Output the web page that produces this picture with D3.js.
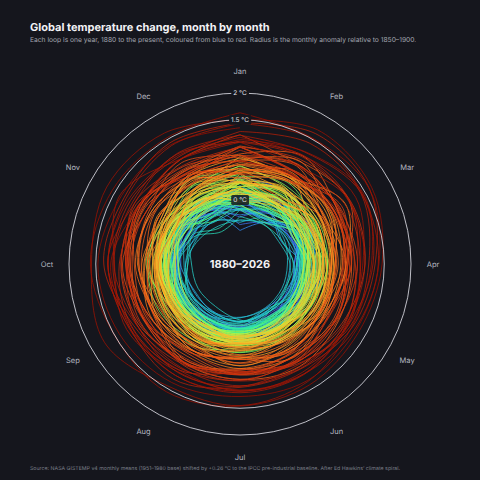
<!DOCTYPE html>
<html>
<head>
<meta charset="utf-8">
<script src="https://cdn.jsdelivr.net/npm/d3@7"></script>
<style>
  html, body { margin: 0; padding: 0; background: #15161d; }
  svg { display: block; font-family: Inter, "Noto Sans", sans-serif; }
</style>
</head>
<body>
<script>
'use strict';

const months = ["Jan", "Feb", "Mar", "Apr", "May", "Jun", "Jul", "Aug", "Sep", "Oct", "Nov", "Dec"];
const firstYear = 1880;
const lastYear = 2026;
const baselineShift = 0.26; // GISTEMP 1951-1980 base -> 1850-1900
const refLevels = [0, 1.5, 2];
const refLabels = ["0 °C", "1.5 °C", "2 °C"];

// monthly anomalies, hundredths of a degree, one row per year from 1880
const gistemp = [
  "-19 -25 -9 -17 -10 -21 -18 -10 -15 -24 -22 -18",
  "-20 -14 3 5 6 -19 0 -3 -15 -22 -18 -7",
  "16 14 4 -16 -14 -23 -16 -8 -15 -23 -17 -36",
  "-29 -37 -12 -19 -18 -8 -8 -14 -22 -11 -24 -11",
  "-13 -8 -36 -40 -33 -35 -31 -27 -27 -25 -33 -31",
  "-58 -33 -24 -44 -41 -50 -28 -27 -19 -19 -22 -5",
  "-43 -50 -40 -28 -27 -38 -17 -30 -24 -27 -27 -25",
  "-72 -56 -35 -35 -31 -20 -25 -34 -26 -35 -26 -40",
  "-33 -36 -40 -28 -21 -16 -10 -11 -9 2 -5 -8",
  "-9 16 4 4 -2 -11 -7 -19 -21 -25 -32 -29",
  "-45 -47 -41 -36 -44 -26 -27 -38 -36 -24 -43 -30",
  "-46 -49 -17 -29 -16 -22 -17 -15 -15 -22 -35 -5",
  "-29 -15 -34 -34 -25 -22 -30 -26 -17 -15 -43 -36",
  "-83 -56 -23 -31 -34 -25 -15 -26 -22 -17 -18 -36",
  "-54 -37 -24 -44 -31 -41 -27 -23 -27 -20 -24 -23",
  "-42 -43 -28 -19 -22 -21 -14 -10 -14 -8 -14 -17",
  "-24 -12 -29 -16 -12 -4 4 -6 -3 3 -15 -9",
  "-18 -14 -12 -2 -4 -13 -7 -6 -8 -5 -15 -20",
  "-5 -34 -58 -31 -34 -21 -20 -23 -19 -28 -34 -27",
  "-21 -45 -27 -12 -19 -20 -10 -4 -2 -3 4 -26",
  "-38 -9 -1 -8 -9 -5 -9 -5 -4 -9 -12 -6",
  "-21 -19 -2 -5 -12 -10 -10 -14 -21 -17 -26 -26",
  "-17 -4 -27 -25 -28 -34 -24 -27 -23 -30 -37 -44",
  "-23 -5 -22 -40 -40 -45 -37 -44 -45 -44 -48 -53",
  "-65 -56 -46 -52 -51 -49 -46 -43 -47 -34 -22 -37",
  "-34 -54 -28 -34 -30 -31 -24 -21 -19 -22 -8 -25",
  "-28 -35 -17 -8 -24 -17 -21 -17 -26 -23 -36 -14",
  "-38 -50 -31 -38 -46 -44 -35 -34 -33 -29 -50 -44",
  "-42 -33 -56 -45 -41 -41 -38 -42 -37 -48 -52 -52",
  "-68 -47 -51 -57 -55 -51 -45 -34 -38 -41 -33 -54",
  "-41 -43 -47 -38 -37 -42 -38 -38 -40 -44 -56 -64",
  "-63 -59 -62 -52 -48 -44 -39 -41 -38 -23 -23 -29",
  "-31 -16 -36 -19 -24 -26 -41 -54 -55 -55 -41 -45",
  "-44 -45 -43 -34 -39 -41 -32 -32 -34 -31 -19 -20",
  "1 -19 -25 -29 -21 -26 -24 -18 -16 -6 -13 -7",
  "-19 -6 -15 -5 -5 -15 -9 -18 -20 -24 -14 -17",
  "-12 -15 -28 -28 -32 -48 -36 -29 -32 -31 -45 -76",
  "-57 -60 -56 -46 -50 -40 -25 -26 -30 -48 -40 -68",
  "-44 -33 -19 -40 -36 -30 -25 -27 -15 -5 -16 -31",
  "-27 -29 -24 -20 -28 -32 -25 -28 -21 -19 -35 -37",
  "-22 -25 -11 -24 -23 -32 -26 -23 -17 -21 -26 -38",
  "-5 -20 -21 -27 -25 -21 -11 -20 -15 -6 -14 -15",
  "-34 -48 -16 -24 -31 -27 -24 -28 -28 -30 -15 -22",
  "-23 -33 -26 -33 -29 -21 -25 -28 -24 -16 -3 -5",
  "-15 -20 -4 -20 -20 -26 -22 -27 -28 -30 -22 -43",
  "-27 -30 -15 -16 -24 -28 -22 -14 -13 -15 2 -5",
  "8 -7 -2 -15 -19 -24 -21 -13 -12 -8 -8 -24",
  "-24 -16 -28 -28 -20 -23 -15 -18 -12 -3 -4 -38",
  "-5 -14 -34 -24 -25 -31 -18 -19 -19 -16 -14 -17",
  "-44 -56 -28 -31 -29 -34 -30 -26 -21 -17 -12 -52",
  "-26 -22 -6 -19 -21 -19 -19 -13 -11 -8 7 -9",
  "-6 -20 -6 -18 -14 -4 -1 -5 -7 -2 -11 -4",
  "12 -20 -18 -7 -14 -19 -16 -15 -3 -1 -19 -14",
  "-26 -30 -29 -19 -23 -29 -17 -17 -26 -24 -27 -42",
  "-19 -4 -30 -18 -9 -11 -7 -9 -14 -9 -2 -5",
  "-30 2 -9 -27 -24 -22 -18 -18 -16 -13 -27 -20",
  "-23 -35 -20 -16 -13 -16 -6 -6 -7 -4 -4 -2",
  "-12 -2 -19 -11 -4 -4 -1 4 8 5 3 -11",
  "5 6 10 10 -3 -9 -6 -3 -1 10 5 -22",
  "-6 -4 -14 -4 -5 -4 -3 -5 -3 2 4 24",
  "-5 12 13 12 10 6 10 7 14 10 20 38",
  "18 31 14 18 16 17 20 17 8 30 15 13",
  "23 2 6 9 7 7 1 2 2 8 8 10",
  "-2 16 -7 10 4 -8 7 5 9 27 21 26",
  "37 24 21 19 17 14 19 21 29 26 15 2",
  "9 -3 8 17 8 0 10 30 22 18 3 -13",
  "11 4 -2 6 -11 -22 -8 -12 -5 -4 -5 -24",
  "-10 -14 -2 6 -6 -2 -5 -7 -8 7 3 -13",
  "5 -15 -24 -8 -2 -6 -15 -11 -14 -10 -15 -27",
  "7 -15 -4 -7 -8 -21 -14 -11 -11 -5 -9 -20",
  "-31 -27 -8 -20 -13 -7 -11 -18 -11 -20 -36 -22",
  "-36 -44 -18 -7 3 -5 3 6 4 9 -5 14",
  "13 11 -12 5 -7 -7 4 5 7 -3 -15 7",
  "6 12 11 18 6 8 6 6 6 7 0 6",
  "-27 -4 -15 -17 -21 -18 -20 -14 -8 -5 5 -16",
  "14 -18 -35 -22 -21 -11 -12 -6 -11 -9 -27 -25",
  "-15 -27 -20 -26 -30 -16 -15 -17 -20 -22 -18 -18",
  "-9 -4 -5 2 6 15 4 12 7 3 9 17",
  "38 21 8 2 7 -8 4 -5 -3 5 6 -2",
  "7 9 18 9 0 3 3 0 -6 -7 -6 4",
  "-1 13 -30 -14 -10 -4 -3 2 6 2 -9 13",
  "6 15 9 10 8 10 2 2 4 1 4 -4",
  "5 14 5 3 -8 2 1 -2 0 2 5 5",
  "-1 17 -14 -7 -6 4 6 20 15 12 16 -5",
  "-7 -13 -19 -26 -23 -6 -4 -23 -28 -30 -20 -30",
  "-5 -13 -10 -19 -14 -8 -13 -7 -10 -5 -9 -8",
  "-16 -4 -3 -15 -11 -1 4 -5 1 -12 -3 -12",
  "-3 -15 5 -2 9 -9 -3 2 -4 6 -5 -6",
  "-28 -13 16 -7 -12 -6 -10 -6 -11 3 -10 -15",
  "-13 -15 2 16 16 4 -1 -3 6 10 12 27",
  "9 20 3 4 -4 -3 -2 -11 7 3 3 -12",
  "-3 -16 -17 -7 -6 -14 -6 -7 -2 -4 -3 -6",
  "-29 -20 0 -1 -3 3 1 17 2 11 7 20",
  "27 33 28 25 21 17 9 9 6 9 5 -5",
  "-12 -20 -8 -7 -9 -5 -11 5 -4 -11 -7 -10",
  "7 3 9 4 7 -3 -5 -14 -4 -13 -15 -10",
  "-4 -11 -20 -9 -19 -15 -8 -14 -10 -25 -7 7",
  "16 18 22 26 24 20 15 13 8 4 17 4",
  "8 12 17 14 6 -3 3 -15 6 3 16 10",
  "9 -9 17 8 3 14 2 15 21 23 25 45",
  "30 40 27 30 35 17 25 21 18 16 30 19",
  "55 40 49 32 26 29 30 38 18 14 20 37",
  "6 13 0 16 19 6 13 7 16 11 13 43",
  "52 44 42 29 32 20 17 31 37 18 33 17",
  "30 15 29 9 28 5 16 21 19 14 1 -12",
  "22 -7 17 10 13 12 4 15 12 9 7 13",
  "25 33 26 22 17 13 9 14 4 13 10 14",
  "30 44 5 21 28 32 45 27 40 34 25 47",
  "58 41 52 43 40 38 32 39 37 38 21 34",
  "15 34 35 26 16 17 30 28 32 28 17 38",
  "40 41 81 53 43 38 44 38 26 46 47 40",
  "40 51 35 52 38 53 50 43 48 32 30 31",
  "44 45 46 24 31 22 11 10 0 7 -8 19",
  "34 36 37 26 20 25 24 12 9 24 5 18",
  "25 -1 31 38 28 43 28 25 35 43 47 39",
  "49 77 46 46 30 45 50 61 40 50 44 29",
  "24 45 29 35 27 27 39 29 24 27 40 38",
  "33 36 51 32 37 56 32 40 50 60 63 59",
  "60 88 63 63 67 76 70 66 42 44 51 57",
  "47 66 33 33 28 36 40 33 40 39 42 45",
  "25 56 56 56 37 42 33 39 41 27 30 29",
  "41 44 57 51 57 54 60 48 56 52 70 56",
  "75 76 90 56 62 54 61 53 62 56 61 44",
  "73 55 56 53 60 48 53 66 63 74 55 73",
  "57 70 64 63 42 41 27 45 50 63 72 51",
  "73 54 69 68 65 67 62 61 75 77 73 65",
  "54 69 63 47 45 63 52 68 62 68 69 79",
  "96 68 67 74 63 55 58 58 61 59 55 49",
  "22 33 73 49 47 46 56 44 61 65 65 52",
  "58 49 52 59 61 63 70 66 70 62 73 61",
  "73 80 92 88 75 66 61 65 59 68 78 44",
  "47 46 60 62 48 60 72 71 53 66 55 56",
  "47 48 55 70 78 65 56 66 72 76 74 49",
  "67 56 66 55 61 64 60 70 78 67 82 67",
  "73 54 80 79 86 70 57 83 88 80 66 79",
  "84 89 91 74 80 80 73 79 84 109 104 116",
  "118 136 134 107 95 81 85 103 92 92 91 85",
  "102 115 116 95 91 72 83 88 78 90 86 91",
  "82 86 89 88 82 77 82 77 79 102 82 92",
  "95 96 117 103 87 93 95 95 94 101 100 110",
  "117 125 118 113 101 92 90 87 99 89 113 80",
  "82 67 91 80 84 88 92 83 93 101 95 88",
  "91 89 104 84 84 92 92 95 89 96 72 80",
  "87 97 120 100 94 108 119 119 147 132 142 137",
  "124 144 139 120 110 115 120 130 124 134 130 127",
  "137 126 134 114 104 106 102 110 115 120 110 112",
  "109"
];

const width = 480, height = 480;
const cx = 240, cy = 264;
const labelRadius = 193;

const svg = d3.select("body").append("svg")
  .attr("width", width)
  .attr("height", height)
  .style("text-rendering", "geometricPrecision");

svg.append("rect")
  .attr("width", width)
  .attr("height", height)
  .attr("fill", "#15161d");

// rows -> years of shifted values
let years = gistemp.map((row, i) => ({
  year: firstYear + i,
  values: row.trim().split(/\s+/).map(v => +v / 100 + baselineShift)
}));

let rScale = d3.scaleLinear().domain([0, 2]).range([64, 171]);
let angle = d3.scaleLinear().domain([0, 12]).range([0, 2 * Math.PI]);
// blue -> red along the years, warming colours reached a little early
let color = d3.scaleSequentialPow(t => d3.interpolateTurbo(0.1 + 0.86 * t))
  .exponent(0.75)
  .domain([firstYear, lastYear]);

let g = svg.append("g").attr("transform", `translate(${cx},${cy})`);

let line = d3.lineRadial()
  .angle(d => angle(d.m))
  .radius(d => rScale(d.v))
  .curve(d3.curveCatmullRom.alpha(0.5));

// each loop runs Jan..Dec and on into the next January
years.forEach((y, i) => {
  let pts = y.values.map((v, m) => ({ m: m, v: v }));
  let next = years[i + 1];
  if (next) pts.push({ m: 12, v: next.values[0] });
  if (pts.length < 2) return;
  g.append("path")
    .attr("d", line(pts))
    .attr("fill", "none")
    .attr("stroke", color(y.year))
    .attr("stroke-width", 0.85)
    .attr("stroke-opacity", 0.9)
    .attr("stroke-linejoin", "round");
});

// reference circles for 1.5 and 2 degrees
g.selectAll(".ref")
  .data(refLevels.filter(d => d > 0))
  .enter()
  .append("circle")
    .attr("r", d => rScale(d))
    .attr("fill", "none")
    .attr("stroke", "#dcdce4")
    .attr("stroke-opacity", 0.85)
    .attr("stroke-width", 1);

refLevels.forEach((lv, i) => {
  let y = -rScale(lv);
  let txt = g.append("text")
    .attr("x", 0)
    .attr("y", y)
    .attr("text-anchor", "middle")
    .attr("dominant-baseline", "central")
    .style("font-size", "6.5px")
    .style("fill", "#e4e4ea")
    .text(refLabels[i]);
  let bb = txt.node().getBBox();
  g.insert("rect", () => txt.node())
    .attr("x", bb.x - 2)
    .attr("y", bb.y - 1)
    .attr("width", bb.width + 4)
    .attr("height", bb.height + 2)
    .attr("rx", 1.5)
    .attr("fill", "#15161d")
    .attr("fill-opacity", lv === 0 ? 0.85 : 1);
});

// month labels
g.selectAll(".month")
  .data(months)
  .enter()
  .append("text")
    .attr("x", (d, i) => labelRadius * Math.sin(angle(i)))
    .attr("y", (d, i) => -labelRadius * Math.cos(angle(i)))
    .attr("text-anchor", "middle")
    .attr("dominant-baseline", "central")
    .style("font-size", "7.5px")
    .style("fill", "#b4b6c0")
    .text(d => d);

g.append("text")
  .attr("x", 0)
  .attr("y", 0)
  .attr("text-anchor", "middle")
  .attr("dominant-baseline", "central")
  .style("font-size", "11px")
  .style("font-weight", "bold")
  .style("fill", "#f2f2f5")
  .text(firstYear + "–" + lastYear);

// title, subtitle, source
svg.append("text")
  .attr("x", 30)
  .attr("y", 31)
  .style("font-size", "11px")
  .style("font-weight", "bold")
  .style("fill", "#f2f2f5")
  .text("Global temperature change, month by month");

svg.append("text")
  .attr("x", 30)
  .attr("y", 42)
  .style("font-size", "6.7px")
  .style("fill", "#a3a6b0")
  .text("Each loop is one year, 1880 to the present, coloured from blue to red. Radius is the monthly anomaly relative to 1850–1900.");

svg.append("text")
  .attr("x", 30)
  .attr("y", 470)
  .style("font-size", "5.25px")
  .style("fill", "#7d808b")
  .text("Source: NASA GISTEMP v4 monthly means (1951–1980 base) shifted by +0.26 °C to the IPCC pre-industrial baseline. After Ed Hawkins’ climate spiral.");
</script>
</body>
</html>
